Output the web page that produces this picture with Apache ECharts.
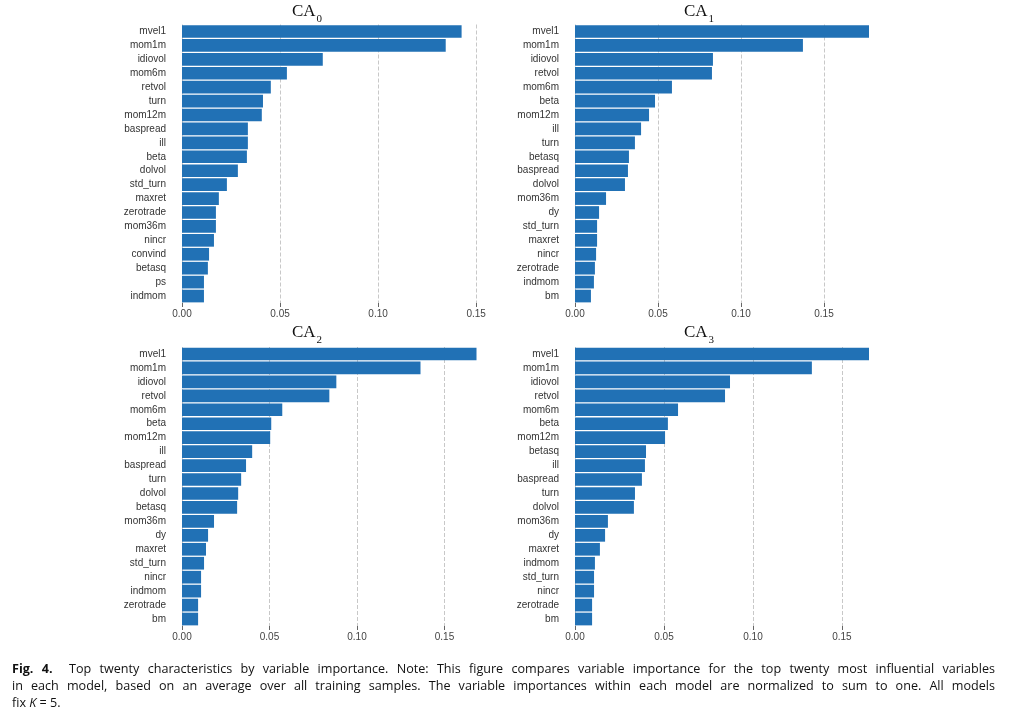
<!DOCTYPE html>
<html><head><meta charset="utf-8">
<script src="https://cdn.jsdelivr.net/npm/echarts@6/dist/echarts.min.js"></script>
<style>
html,body{margin:0;padding:0;background:#fff;}
#chart{position:absolute;left:0;top:0;width:1032px;height:721px;}
#cap{position:absolute;left:12px;top:660px;width:983px;font-family:'Open Sans',sans-serif;font-size:12px;line-height:17px;color:#111;}
#cap div{text-align:justify;text-align-last:justify;white-space:nowrap;}
#cap div.last{text-align-last:left;}
#cap.measure div{text-align:left;text-align-last:left;}
</style>
</head><body>
<div id="chart"></div>
<div id="cap">
<div><span class="m"><b>Fig. 4.</b>&nbsp; Top twenty characteristics by variable importance. Note: This figure compares variable importance for the top twenty most influential variables</span></div>
<div><span class="m">in each model, based on an average over all training samples. The variable importances within each model are normalized to sum to one. All models</span></div>
<div class="last"><span class="m">fix <i>K</i> = 5.</span></div>
</div>
<script>
const titles = ['0', '1', '2', '3'];
const tickValues = [0, 0.05, 0.10, 0.15];

const cats0 = ['mvel1','mom1m','idiovol','mom6m','retvol','turn','mom12m','baspread','ill','beta','dolvol','std_turn','maxret','zerotrade','mom36m','nincr','convind','betasq','ps','indmom'];
const vals0 = [0.1426,0.1345,0.0718,0.0535,0.0453,0.0413,0.0407,0.0336,0.0336,0.0331,0.0285,0.0229,0.0188,0.0173,0.0173,0.0163,0.0138,0.0132,0.0112,0.0112];

const cats1 = ['mvel1','mom1m','idiovol','retvol','mom6m','beta','mom12m','ill','turn','betasq','baspread','dolvol','mom36m','dy','std_turn','maxret','nincr','zerotrade','indmom','bm'];
const vals1 = [0.1771,0.1373,0.0831,0.0825,0.0584,0.0482,0.0446,0.0398,0.0361,0.0325,0.0319,0.0301,0.0187,0.0145,0.0133,0.0133,0.0127,0.0120,0.0114,0.0096];

const cats2 = ['mvel1','mom1m','idiovol','retvol','mom6m','beta','mom12m','ill','baspread','turn','dolvol','betasq','mom36m','dy','maxret','std_turn','nincr','indmom','zerotrade','bm'];
const vals2 = [0.1683,0.1363,0.0882,0.0842,0.0573,0.0510,0.0504,0.0401,0.0366,0.0338,0.0321,0.0315,0.0183,0.0149,0.0137,0.0126,0.0109,0.0109,0.0092,0.0092];

const cats3 = ['mvel1','mom1m','idiovol','retvol','mom6m','beta','mom12m','betasq','ill','baspread','turn','dolvol','mom36m','dy','maxret','indmom','std_turn','nincr','zerotrade','bm'];
const vals3 = [0.1652,0.1331,0.0871,0.0843,0.0579,0.0522,0.0506,0.0399,0.0393,0.0376,0.0337,0.0331,0.0185,0.0169,0.0140,0.0112,0.0107,0.0107,0.0096,0.0096];

const axisMax = [0.1502, 0.1771, 0.1683, 0.1652];

const cats = [cats0, cats1, cats2, cats3];
const vals = [vals0, vals1, vals2, vals3];

const grids = [
  {left: 182, top: 24.5, width: 294.5, height: 278.5},
  {left: 575, top: 24.5, width: 294, height: 278.5},
  {left: 182, top: 347, width: 294.5, height: 279},
  {left: 575, top: 347, width: 294, height: 279}
];
const titlePos = [[307, 2], [699, 2], [307, 323], [699, 323]];
const barColor = '#2171b5';

// fit caption lines to the target width (measured without justification)
(function fitCaption() {
  const cap = document.getElementById('cap');
  const spans = cap.querySelectorAll('span.m');
  cap.classList.add('measure');
  let fs = 12.6;
  const target = 983;
  for (let k = 0; k < 40; k++) {
    cap.style.fontSize = fs.toFixed(2) + 'px';
    const w = Math.max(spans[0].getBoundingClientRect().width, spans[1].getBoundingClientRect().width);
    if (w <= target - 1) break;
    fs -= 0.1;
  }
  cap.classList.remove('measure');
})();

const chart = echarts.init(document.getElementById('chart'), null, {renderer: 'canvas'});
const option = {
  animation: false,
  backgroundColor: '#fff',
  title: titles.map((t, i) => ({
    text: '{m|CA}{s|' + t + '}',
    left: titlePos[i][0],
    top: titlePos[i][1],
    textAlign: 'center',
    padding: 0,
    textStyle: {
      fontWeight: 'normal',
      rich: {
        m: {fontFamily: 'Liberation Serif, serif', fontSize: 17, fontWeight: 'normal', color: '#111', verticalAlign: 'bottom', lineHeight: 18},
        s: {fontFamily: 'Liberation Serif, serif', fontSize: 11, fontWeight: 'normal', color: '#111', verticalAlign: 'bottom', lineHeight: 18, padding: [0, 0, -5, 1]}
      }
    }
  })),
  grid: grids.map(g => Object.assign({containLabel: false}, g)),
  xAxis: grids.map((g, i) => ({
    type: 'value',
    gridIndex: i,
    min: 0,
    max: axisMax[i],
    interval: 0.05,
    axisLine: {show: false},
    axisTick: {show: true, length: 4, lineStyle: {color: '#666', width: 1}, customValues: tickValues},
    axisLabel: {
      customValues: tickValues,
      formatter: v => (+v).toFixed(2),
      fontSize: 10, color: '#444', margin: 6,
      fontFamily: 'Liberation Sans, Arial, sans-serif'
    },
    splitLine: {show: true, lineStyle: {type: [4, 2], color: '#c8c8c8', width: 1}}
  })),
  yAxis: grids.map((g, i) => ({
    type: 'category',
    gridIndex: i,
    data: cats[i],
    inverse: true,
    axisLine: {show: false},
    axisTick: {show: false},
    axisLabel: {fontSize: 10, color: '#333', margin: 16, fontFamily: 'Liberation Sans, Arial, sans-serif'},
    splitLine: {show: false}
  })),
  series: vals.map((v, i) => ({
    type: 'bar',
    xAxisIndex: i,
    yAxisIndex: i,
    data: v,
    barCategoryGap: '9%',
    itemStyle: {color: barColor},
    silent: true
  }))
};
chart.setOption(option);
</script>
</body></html>
